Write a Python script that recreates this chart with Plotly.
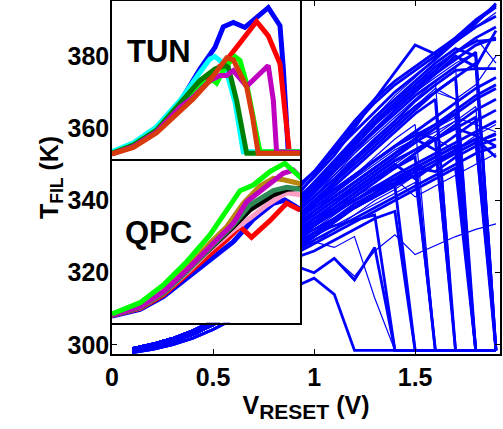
import plotly.graph_objects as go

# ---------------- main panel data (V_RESET in V, T_FIL in K) ----------------
v_main = [0.1, 0.2, 0.3, 0.4, 0.5, 0.6, 0.7, 0.8, 0.9, 1.0,
          1.1, 1.2, 1.3, 1.4, 1.5, 1.6, 1.7, 1.8, 1.9]

# common low-voltage part of the curves (0.1 ... 0.8 V)
base_low = [297.9, 298.8, 300.1, 301.9, 304.3, 307.2, 310.5, 313.5]
base_mid = [298.4, 299.5, 301.0, 303.0, 305.6, 309.0, 313.5, 318.5]
base_high = [299.0, 300.2, 301.8, 303.9, 306.6, 310.5, 315.5, 321.0]

D = 298.5  # level after the reset drop

# values at 0.9 ... 1.9 V
upper_tails = [
    [343, 348, 353.5, 359, 364.5, 370, 374.5, 379, 384, 389, 394.5],
    [341, 346.5, 352.5, 360, 368, 375.5, 383, 380.5, 385, 389.5, 393.5],
    [340, 345, 351, 357, 363, 369, 374, 379.5, 384.5, 388, 392],
    [339, 344, 350, 356, 361.5, 366, 371, 376, 381, 384, 384.5],
    [338, 343, 348.5, 354, 359.5, 365, 370, 375, 380, 377, 387],
    [338, 343, 348, 353, 358, 363, 368, 373, 377, D, D],
    [336, 341, 346, 351.5, 357, 362, 367.5, 372, 376, 376.5, 376.5],
    [335, 340, 345, 350, 355, 360, 365, 370, 374, 378, D],
    [337, 342, 347, 352, 357, 362, 366, 371, 368, 372, 380],
    [334, 339, 344, 349, 354, 359, 364, 368, D, D, D],
    [333, 337, 341, 345, 349, 353, 357, 361, 365, 369, 372],
    [332, 337, 342, 347, 352, 357, 361, D, D, D, D],
    [339, 345, 351, 357, 363, 368, 373, 378, 382, 380, D],
    [337, 343, 349, 355, 361, 366, 371, 375, 379, 383, 385],
    [336, 342, 348, 354, 360, 365, 370, 374, 378, 381, D],
    [334, 338, 342, 346.5, 351, 355, 359, 363, 367, 371, 374],
    [333, 339, 345, 351, 356, 361, 366, 370, 374, D, D],
    [336, 341, 347, 353, 359, 364, 369, 373, D, D, D],
    [332, 336, 340, 344, 348, 352, 356, 360, 364, 368, 371],
    [335, 339, 343, 347, 351, 355, 359, 357, 361, 365, 368],
    [330, 334, 338, 342, 346, 350, 354, 358, 362, 366, D],
    [338, 344, 350, 356, 362, 367, 372, 377, 381, 385, 388],
    [337, 342, 348, 354, 359, 364, 369, 373, 377, 381, D],
    [334, 339, 345, 351, 356, 361, 366, 370, 368, D, D],
    [342, 348, 355, 362, 368, 373, 377, 381, 385, 390, 394],
    [340, 347, 354, 361, 367, 372, 376, 380, 384, 388, 391],
    [336, 343, 350, 357, 363, 368, 372, 376, 381, 385, 378],
]
middle_tails = [
    [331, 334, 337, 340, 343.5, 347, 350, 353, 356, 359, 362],
    [330, 333, 336.5, 340, 343, 346, 349, 352, 355, D, D],
    [334, 338, 342, 346, 350, 354, 357, 360, 363, 361, 359],
    [329, 332, 335, 338, 341, 344, 347, 350, 353, 356, 358.5],
    [328, 331, 334.5, 338, 341, 344.5, 348, 351, 354, 357, D],
    [327, 330, 333, 336, 339, 342, 345, D, D, D, D],
    [326, 329, 332, 335, 338, 341, 344, 347, 350, 353, 355],
    [325, 328, 331, 334, 337, 340, 343, 346, 349, D, D],
    [329, 333, 337, 341, 345, 349, 353, 357, 354, 358, 361],
    [333, 337, 341, 345, 349, 353, 357, 354, 358, 362, 365],
    [331, 335, 338, 342, 346, 350, 346, 350, 354, 357, 352],
    [332, 335, 338, 341, 344, 347, 350, 348, 352, 355, D],
    [335, 339, 343, 347, 351, 355, 358, 361, 364, D, D],
    [333, 336, 340, 343, 347, 351, 354, 357, 360, 358, 355],
    [331, 334, 337, 340, 343, 346, 341, 344, 347, 350, 353],
    [331, 335, 339, 343, 347, 351, 354, 357, D, D, D],
    [329, 333, 337, 340, 343, 346, 349, D, D, D, D],
    [333, 337, 341, 345, 349, 353, 356, 359, 362, D, D],
]
lower_tails = [
    [316, 318.5, 314, D, D, D, D, D, D, D, D],
    [322, 320, 324, 318, 327, D, D, D, D, D, D],
    [325.5, 328.5, 327, 330, 313, D, D, D, D, D, D],
    [328, 331, 333, 334.5, 336, D, D, D, D, D, D],
    [324, 326, 329, 332, 335, 337, D, D, D, D, D],
    [322, 320, 324, 319, 326, 330.5, 325, 327.5, 330, 332, 333.5],
    [327, 330, 334, 338, 341, 344, D, D, D, D, D],
    [330, 334, 338, 342, 346, 349, 352, D, D, D, D],
    [328, 332, 336, 340, 343, 347, 350, 353, D, D, D],
    [326, 330, 334, 338, 342, 345, 349, 352, 355, D, D],
    [329, 333, 337, 341, 345, 349, 353, 357, 360, 363, D],
    [325, 328, 332, 336, 340, 343, 347, 350, 353, 356, 358],
    [327, 331, 335, 339, 342, 346, 349, 348, 352, 355, 357],
]

# ---------------- TUN inset data ----------------
tun_v = {
    "blue":   [0.0, 0.106, 0.221, 0.337, 0.436, 0.510, 0.551, 0.601, 0.658, 0.716, 0.774, 0.832, 0.848, 0.873, 0.931],
    "red":    [0.0, 0.106, 0.221, 0.337, 0.436, 0.502, 0.568, 0.716, 0.774, 0.832, 0.856, 0.878, 0.931],
    "cyan":   [0.0, 0.106, 0.221, 0.337, 0.436, 0.485, 0.510, 0.535, 0.568, 0.609, 0.650, 0.931],
    "lime":   [0.0, 0.106, 0.221, 0.337, 0.436, 0.502, 0.518, 0.560, 0.609, 0.634, 0.667, 0.700, 0.733, 0.931],
    "green":  [0.0, 0.106, 0.221, 0.337, 0.436, 0.510, 0.560, 0.576, 0.617, 0.667, 0.931],
    "purple": [0.0, 0.106, 0.221, 0.337, 0.403, 0.485, 0.535, 0.568, 0.601, 0.667, 0.774, 0.799, 0.815, 0.931],
    "orange": [0.0, 0.106, 0.221, 0.337, 0.403, 0.485, 0.568, 0.601, 0.667, 0.696, 0.724, 0.931],
}
tun_t = {
    "blue":   [299.7, 305.8, 316.1, 333.5, 355.3, 369.5, 383.0, 385.8, 382.6, 389.1, 395.6, 383.7, 356.4, 300.8, 300.2],
    "red":    [299.3, 304.1, 313.9, 330.2, 344.4, 353.1, 361.2, 386.5, 377.1, 358.6, 328.1, 300.8, 300.8],
    "cyan":   [300.8, 306.7, 317.2, 334.6, 353.1, 361.8, 363.4, 360.8, 353.1, 333.5, 300.8, 300.8],
    "lime":   [299.7, 305.2, 315.0, 332.4, 345.5, 347.7, 345.9, 356.4, 363.4, 360.8, 345.5, 323.7, 300.8, 300.8],
    "green":  [299.7, 305.2, 315.0, 332.4, 347.7, 355.3, 357.5, 356.4, 334.6, 299.7, 299.7],
    "purple": [299.3, 304.1, 313.9, 330.2, 336.8, 347.7, 350.9, 350.9, 354.2, 343.8, 357.5, 334.6, 300.8, 300.2],
    "orange": [299.3, 303.6, 313.2, 328.1, 335.7, 347.7, 362.5, 361.2, 343.3, 323.7, 299.7, 299.7],
}

# ---------------- QPC inset data ----------------
qpc_v = {
    "blue":   [0.0, 0.139, 0.254, 0.370, 0.485, 0.601, 0.700, 0.799, 0.856, 0.939],
    "red":    [0.0, 0.139, 0.254, 0.370, 0.485, 0.568, 0.634, 0.691, 0.782, 0.865, 0.931],
    "pink":   [0.0, 0.139, 0.254, 0.370, 0.485, 0.601, 0.683, 0.766, 0.865, 0.939],
    "black":  [0.0, 0.139, 0.254, 0.370, 0.485, 0.601, 0.683, 0.799, 0.865, 0.939],
    "teal":   [0.0, 0.139, 0.254, 0.370, 0.485, 0.601, 0.683, 0.799, 0.865, 0.939],
    "brown":  [0.0, 0.139, 0.254, 0.370, 0.485, 0.568, 0.650, 0.733, 0.799, 0.856, 0.939],
    "purple": [0.0, 0.139, 0.254, 0.370, 0.485, 0.601, 0.667, 0.733, 0.848, 0.898, 0.939],
    "lime":   [0.0, 0.139, 0.254, 0.370, 0.485, 0.634, 0.700, 0.782, 0.856, 0.939],
}
qpc_t = {
    "blue":   [303.2, 305.2, 309.0, 314.5, 320.0, 325.5, 332.2, 337.0, 338.0, 335.0],
    "red":    [303.4, 305.5, 309.5, 315.5, 321.5, 326.0, 330.0, 326.8, 331.8, 337.0, 335.0],
    "pink":   [303.5, 305.7, 310.0, 316.2, 323.0, 329.0, 332.5, 336.5, 340.2, 339.5],
    "black":  [303.5, 305.8, 310.2, 316.7, 323.5, 330.0, 335.0, 339.5, 341.2, 341.5],
    "teal":   [303.5, 305.8, 310.0, 316.5, 323.5, 330.5, 336.5, 340.8, 341.8, 341.2],
    "brown":  [303.5, 306.0, 310.5, 317.5, 325.0, 330.0, 337.0, 342.2, 344.5, 344.0, 342.8],
    "purple": [303.5, 306.0, 310.5, 317.0, 324.0, 331.0, 337.5, 340.5, 346.0, 347.0, 344.5],
    "lime":   [303.8, 307.2, 312.5, 319.5, 327.5, 340.8, 342.5, 346.5, 349.0, 344.5],
}

tun_colors = {"blue": "#0000FF", "red": "#FF0000", "cyan": "#00FFFF", "lime": "#00FF00",
              "green": "#008000", "purple": "#BF00BF", "orange": "#D83B0B"}
qpc_colors = {"blue": "#0000FF", "red": "#FF0000", "pink": "#FF9EC4", "black": "#000000",
              "teal": "#2E8B57", "brown": "#B8860B", "purple": "#BF00BF", "lime": "#00FF00"}

fig = go.Figure()

# main blue curves
all_tails = upper_tails + middle_tails + lower_tails
for i, tail in enumerate(all_tails):
    if tail[0] >= 335:
        base = base_high
    elif tail[0] >= 325:
        base = base_mid
    else:
        base = base_low
    t_vals = base + tail
    w = 1.2 if i % 3 == 2 else 2.8
    fig.add_trace(go.Scatter(x=v_main, y=t_vals, mode="lines",
                             line=dict(color="#0000FF", width=w),
                             xaxis="x", yaxis="y", showlegend=False, hoverinfo="skip"))

for k in tun_v:
    fig.add_trace(go.Scatter(x=tun_v[k], y=tun_t[k], mode="lines",
                             line=dict(color=tun_colors[k], width=5),
                             xaxis="x2", yaxis="y2", showlegend=False, hoverinfo="skip"))
for k in qpc_v:
    fig.add_trace(go.Scatter(x=qpc_v[k], y=qpc_t[k], mode="lines",
                             line=dict(color=qpc_colors[k], width=5),
                             xaxis="x3", yaxis="y3", showlegend=False, hoverinfo="skip"))

FAM = "Liberation Sans, Arial, sans-serif"
font_b = dict(family=FAM, size=25, color="black", weight="bold")
inset_axis = dict(showline=True, linecolor="black", linewidth=1.5, mirror=True,
                  showticklabels=False, ticks="", showgrid=False, zeroline=False,
                  automargin=False)

fig.update_layout(
    width=503, height=429,
    margin=dict(l=112, r=3, t=1, b=75, autoexpand=False),
    paper_bgcolor="white", plot_bgcolor="white",
    xaxis=dict(range=[0, 1.92], tickvals=[0, 0.5, 1, 1.5], ticktext=["0", "0.5", "1", "1.5"],
               ticks="inside", ticklen=5, tickwidth=1, tickcolor="black",
               showline=True, linecolor="black", linewidth=1.5, mirror="ticks",
               showgrid=False, zeroline=False, tickfont=font_b, automargin=False,
               title=dict(text="V<sub><span style='font-size:21px'>RESET</span></sub> (V)",
                          font=font_b, standoff=4)),
    yaxis=dict(range=[297.5, 395.2], tickvals=[300, 320, 340, 360, 380],
               ticks="inside", ticklen=5, tickwidth=1, tickcolor="black",
               showline=True, linecolor="black", linewidth=1.5, mirror="ticks",
               showgrid=False, zeroline=False, tickfont=font_b, automargin=False,
               ticklabelstandoff=-4,
               title=dict(text="T<sub>FIL</sub> (K)", font=font_b, standoff=2)),
    xaxis2=dict(domain=[0, 0.4845], range=[0, 0.931], anchor="y2", **inset_axis),
    yaxis2=dict(domain=[0.5516, 1.0], range=[295.8, 400], anchor="x2", **inset_axis),
    xaxis3=dict(domain=[0, 0.4845], range=[0, 0.931], anchor="y3", **inset_axis),
    yaxis3=dict(domain=[0.0887, 0.5467], range=[301.2, 349.7], anchor="x3", **inset_axis),
    annotations=[
        dict(text="TUN", x=0.121, y=0.858, xref="paper", yref="paper",
             xanchor="center", yanchor="middle", showarrow=False,
             font=dict(family=FAM, size=31, color="black", weight="bold")),
        dict(text="QPC", x=0.121, y=0.344, xref="paper", yref="paper",
             xanchor="center", yanchor="middle", showarrow=False,
             font=dict(family=FAM, size=31, color="black", weight="bold")),
    ],
)

fig.write_html("out.html", config={"displayModeBar": False},
               post_script="document.body.style.margin='0px';")
